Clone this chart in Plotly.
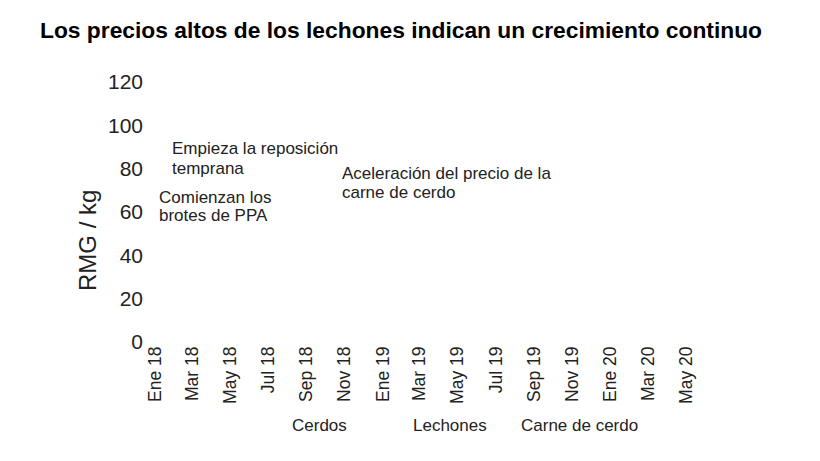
import plotly.graph_objects as go

# Tick positions and Spanish labels (every 2 months)
tick_dates = ["2018-01-01", "2018-03-01", "2018-05-01", "2018-07-01", "2018-09-01",
              "2018-11-01", "2019-01-01", "2019-03-01", "2019-05-01", "2019-07-01",
              "2019-09-01", "2019-11-01", "2020-01-01", "2020-03-01", "2020-05-01"]
tick_labels = ["Ene 18", "Mar 18", "May 18", "Jul 18", "Sep 18", "Nov 18",
               "Ene 19", "Mar 19", "May 19", "Jul 19", "Sep 19", "Nov 19",
               "Ene 20", "Mar 20", "May 20"]
y_ticks = [0, 20, 40, 60, 80, 100, 120]

# Series (no line data is visible in the reference chart)
series_names = ["Cerdos", "Lechones", "Carne de cerdo"]
cerdos_x, cerdos_y = [None], [None]
lechones_x, lechones_y = [None], [None]
carne_x, carne_y = [None], [None]

# Event annotations: (line text, date, y value)
event_lines = [
    ("Empieza la reposición", "2018-01-25", 89.1),
    ("temprana", "2018-01-25", 80.3),
    ("Comienzan los", "2018-01-04", 66.9),
    ("brotes de PPA", "2018-01-04", 58.6),
    ("Aceleración del precio de la", "2018-10-24", 78.0),
    ("carne de cerdo", "2018-10-24", 69.2),
]

FONT = "Liberation Sans, Arial, sans-serif"
L, R, T, B = 150, 120, 82, 119
PW, PH = 820 - L - R, 461 - T - B

fig = go.Figure()
legend_ids = ["legend", "legend2", "legend3"]
legend_text_x = [292, 413, 521]
for name, xs, ys, lid in zip(series_names, [cerdos_x, lechones_x, carne_x],
                             [cerdos_y, lechones_y, carne_y], legend_ids):
    fig.add_trace(go.Scatter(x=xs, y=ys, name=name, mode="lines", legend=lid,
                             line=dict(color="rgba(0,0,0,0)", width=2)))

for text, xd, yv in event_lines:
    fig.add_annotation(x=xd, y=yv, xref="x", yref="y", text=text, showarrow=False,
                       xanchor="left", yanchor="middle", align="left",
                       font=dict(family=FONT, size=17, color="#222"))

fig.add_annotation(x=(87 - L) / PW, y=(342 - 241) / PH, xref="paper", yref="paper",
                   text="RMG / kg", showarrow=False, textangle=-90,
                   xanchor="center", yanchor="middle",
                   font=dict(family=FONT, size=24, color="#222"))

leg_common = dict(orientation="h", yanchor="middle", xanchor="left",
                  font=dict(family=FONT, size=17, color="#222"),
                  bgcolor="rgba(0,0,0,0)")
legends = {}
for lid, tx in zip(legend_ids, legend_text_x):
    legends[lid] = dict(leg_common, x=(tx - 40 - L) / PW, y=(342 - 425) / PH)

fig.update_layout(
    width=820, height=461,
    margin=dict(l=L, r=R, t=T, b=B),
    paper_bgcolor="white", plot_bgcolor="white",
    title=dict(text="<b>Los precios altos de los lechones indican un crecimiento continuo</b>",
               x=40 / 820, xanchor="left", y=1 - 30 / 461, yanchor="middle",
               font=dict(family=FONT, size=22.8, color="black")),
    xaxis=dict(type="date", range=["2017-12-24", "2020-05-23"],
               tickmode="array", tickvals=tick_dates, ticktext=tick_labels,
               tickangle=-90, showgrid=False, zeroline=False, showline=False,
               ticks="", tickfont=dict(family=FONT, size=17.5, color="#222")),
    yaxis=dict(range=[0, 120], tickmode="array", tickvals=y_ticks,
               showgrid=False, zeroline=False, showline=False, ticks="",
               ticklabelstandoff=6,
               tickfont=dict(family=FONT, size=21, color="#222")),
    showlegend=True,
    **legends,
)

fig.write_html("out.html")
